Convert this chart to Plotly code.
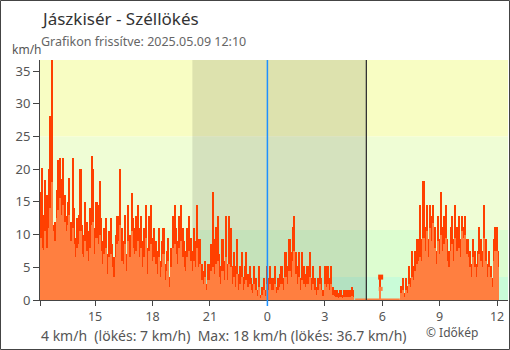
import plotly.graph_objects as go

# ---- data (5-minute bars, hours since 2025-05-08 00:00) ----
start_hour = 12.125
step_hour = 5 / 60

gust = [
    16.5, 20.2, 13.0, 18.3, 16.0, 20.0, 28.1, 36.7, 11.5, 12.0, 16.8, 21.4,
    21.7, 18.5, 21.7, 16.0, 12.8, 15.0, 18.7, 12.0, 21.7, 14.0, 9.5, 12.5,
    13.0, 20.0, 11.5, 10.0, 15.0, 12.0, 10.5, 14.0, 22.0, 20.0, 11.0, 15.0,
    14.6, 18.2, 12.5, 9.0, 11.0, 12.5, 7.0, 10.5, 12.5, 8.5, 6.5, 10.0,
    12.8, 12.8, 20.0, 11.0, 9.0, 13.0, 7.0, 14.6, 10.0, 16.4, 12.5, 11.0,
    12.8, 14.6, 11.0, 12.8, 9.0, 11.0, 14.6, 8.0, 12.8, 14.6, 9.5, 11.0,
    9.0, 7.5, 11.0, 6.0, 9.0, 11.0, 5.5, 7.5, 9.5, 3.5, 8.0, 12.8,
    14.6, 11.0, 9.0, 12.8, 14.6, 11.0, 9.0, 7.5, 11.0, 12.8, 9.5, 7.5,
    11.0, 9.0, 14.6, 9.3, 9.3, 5.5, 4.5, 6.0, 2.5, 5.5, 5.5, 8.5,
    16.5, 9.3, 11.1, 12.8, 7.0, 5.2, 9.3, 6.0, 12.8, 5.5, 12.8, 11.0,
    5.2, 7.3, 5.2, 9.3, 4.0, 5.2, 7.3, 3.5, 5.2, 7.3, 4.0, 5.2,
    3.4, 2.5, 5.2, 3.4, 1.5, 5.2, 0.8, 2.0, 3.4, 1.5, 5.2, 3.4,
    5.2, 3.4, 3.4, 5.2, 2.0, 3.4, 4.0, 5.2, 3.4, 7.3, 7.3, 5.2,
    9.3, 7.3, 11.1, 12.8, 7.3, 5.2, 7.3, 3.4, 7.3, 5.2, 4.0, 5.2,
    5.2, 7.3, 3.4, 5.2, 3.4, 2.0, 3.4, 5.2, 3.4, 1.5, 5.2, 5.2,
    5.2, 3.4, 5.2, 2.0, 1.6, 1.6, 1.6, 1.0, 1.6, 0.8, 1.6, 1.6,
    1.6, 1.6, 1.6, 2.0, 1.6, 0, 0, 0, 0, 0, 0, 0,
    0, 0, 0, 0, 0, 0, 0, 0, 0, 3.5, 0, 0,
    0, 0, 0, 0, 0, 0, 0, 0, 0, 0, 2.2, 3.4,
    1.0, 3.4, 2.2, 5.2, 3.4, 7.5, 5.2, 7.5, 9.3, 9.3, 14.6, 9.3,
    18.2, 11.1, 14.6, 9.3, 14.6, 12.8, 14.6, 11.1, 7.5, 12.8, 9.3, 16.5,
    11.1, 12.8, 14.6, 9.3, 7.5, 11.1, 12.8, 9.3, 14.6, 11.1, 12.8, 9.3,
    12.8, 11.1, 12.8, 9.3, 9.3, 7.5, 5.5, 9.3, 7.5, 5.5, 7.5, 11.1,
    9.3, 7.5, 14.6, 9.3, 5.5, 7.5, 5.2, 3.4, 9.3, 11.1, 11.1, 7.5,
]

wind = [
    9.5, 8.0, 7.6, 10.5, 7.9, 11.0, 14.0, 18.0, 10.5, 9.0, 12.5, 13.7,
    15.6, 13.0, 14.5, 12.0, 10.5, 11.5, 13.0, 9.0, 11.0, 8.5, 6.5, 8.0,
    8.5, 10.5, 7.0, 6.5, 9.0, 7.5, 6.0, 8.0, 11.5, 12.0, 7.0, 9.5,
    8.5, 10.0, 7.5, 5.5, 7.0, 8.0, 4.0, 6.5, 7.0, 5.0, 3.5, 6.5,
    8.5, 9.0, 11.5, 6.0, 5.5, 8.5, 4.5, 9.0, 6.5, 10.5, 8.0, 7.0,
    7.5, 9.0, 6.5, 8.0, 5.0, 6.5, 9.5, 4.0, 7.5, 8.5, 6.0, 6.5,
    5.5, 4.0, 6.5, 3.5, 5.0, 7.0, 3.0, 4.5, 6.0, 2.0, 5.0, 8.0,
    8.5, 7.0, 5.5, 8.0, 9.0, 6.5, 5.0, 4.5, 6.5, 7.5, 6.0, 4.5,
    6.0, 5.0, 8.0, 5.0, 5.5, 3.0, 2.5, 3.5, 1.5, 3.0, 3.0, 4.5,
    5.0, 4.0, 5.5, 6.0, 3.5, 2.5, 4.5, 3.0, 6.5, 3.0, 5.5, 5.0,
    2.5, 3.5, 2.0, 4.0, 1.5, 2.5, 3.5, 1.5, 2.5, 3.0, 2.0, 2.5,
    1.5, 1.0, 2.5, 1.5, 0.6, 2.0, 0.3, 0.8, 1.5, 0.6, 2.5, 1.5,
    2.5, 1.5, 1.5, 2.5, 1.0, 1.5, 2.0, 2.5, 1.5, 3.5, 3.5, 2.5,
    4.5, 3.5, 6.0, 7.5, 4.0, 2.5, 3.5, 1.5, 3.0, 2.5, 2.0, 2.5,
    2.5, 3.5, 1.5, 2.5, 1.5, 0.8, 1.5, 2.5, 1.5, 0.6, 2.5, 2.0,
    2.5, 1.5, 2.5, 0.8, 0.6, 0.5, 0.5, 0.3, 0.5, 0.2, 0.5, 0.5,
    0.5, 0.5, 0.4, 0.6, 0.5, 0, 0, 0, 0, 0, 0, 0,
    0, 0, 0, 0, 0, 0, 0, 0, 0, 1.7, 0, 0,
    0, 0, 0, 0, 0, 0, 0, 0, 0, 0, 1.0, 1.5,
    0.5, 1.5, 1.0, 2.5, 2.0, 3.5, 3.0, 4.5, 5.5, 6.0, 6.5, 6.0,
    9.5, 7.5, 10.5, 6.5, 11.0, 9.0, 11.8, 8.0, 5.5, 9.0, 7.0, 10.0,
    7.5, 8.5, 9.5, 6.0, 5.0, 7.5, 8.5, 6.0, 9.5, 7.5, 8.0, 6.5,
    10.5, 9.5, 10.0, 7.0, 6.5, 5.0, 3.5, 6.5, 5.0, 3.5, 5.0, 7.0,
    6.0, 5.0, 9.5, 6.0, 3.5, 5.0, 3.5, 2.0, 6.0, 7.5, 7.5, 5.0,
]

times = [start_hour + (i + 0.5) * step_hour for i in range(len(gust))]

band_limits = [0, 3.5, 10.7, 25, 36.7]
band_colors = ["#c9fcd8", "#ddfdd0", "#effdd5", "#f8fdc3"]

tick_vals = [12.12, 15, 18, 21, 24, 27, 30, 33, 36]
tick_text = ["", "15", "18", "21", "0", "3", "6", "9", "12"]
y_ticks = [0, 5, 10, 15, 20, 25, 30, 35]

sunset_h = 20.08
sunrise_h = 29.17
midnight_h = 24.0

title = "Jászkisér - Széllökés"
subtitle = "Grafikon frissítve: 2025.05.09 12:10"
summary = "4 km/h  (lökés: 7 km/h)  Max: 18 km/h (lökés: 36.7 km/h)"
credit = "© Időkép"

# ---- figure ----
W, H = 510, 350
L, R, T, B = 40, 2, 60, 50
pw, ph = W - L - R, H - T - B


def px(x):
    return (x - L) / pw


def py(y):
    return (H - B - y) / ph


GUST_C = "#ff4000"
WIND_C = "#ff7f40"

fig = go.Figure()
fig.add_trace(go.Bar(x=times, y=gust, width=step_hour, marker=dict(color=GUST_C, line=dict(width=0)),
                     hoverinfo="skip"))
fig.add_trace(go.Bar(x=times, y=wind, width=step_hour, marker=dict(color=WIND_C, line=dict(width=0)),
                     hoverinfo="skip"))

# zero line during the calm gap
zero_x = [t for t, g in zip(times, gust) if g == 0]
fig.add_trace(go.Scatter(x=zero_x, y=[0] * len(zero_x), mode="lines",
                         line=dict(color=WIND_C, width=3), hoverinfo="skip", cliponaxis=False))

# isolated points drawn as markers
iso = [i for i in range(1, len(gust) - 1) if gust[i] > 0 and gust[i - 1] == 0 and gust[i + 1] == 0]
fig.add_trace(go.Scatter(x=[times[i] for i in iso], y=[gust[i] for i in iso], mode="markers",
                         marker=dict(color=GUST_C, size=5, symbol="square"), hoverinfo="skip"))
fig.add_trace(go.Scatter(x=[times[i] for i in iso], y=[wind[i] for i in iso], mode="markers",
                         marker=dict(color=WIND_C, size=4, symbol="square"), hoverinfo="skip"))

shapes = []
for i, c in enumerate(band_colors):
    shapes.append(dict(type="rect", xref="paper", yref="y", x0=0, x1=1,
                       y0=band_limits[i], y1=band_limits[i + 1],
                       fillcolor=c, line=dict(width=0), layer="below"))
shapes.append(dict(type="rect", xref="x", yref="paper", x0=sunset_h, x1=sunrise_h, y0=0, y1=1,
                   fillcolor="rgba(0,0,0,0.105)", line=dict(width=0), layer="below"))
shapes.append(dict(type="line", xref="x", yref="paper", x0=midnight_h, x1=midnight_h, y0=-0.025, y1=1,
                   line=dict(color="#1e90ff", width=1.5), layer="above"))
shapes.append(dict(type="line", xref="x", yref="paper", x0=sunrise_h, x1=sunrise_h, y0=0, y1=1,
                   line=dict(color="#333333", width=1.3), layer="above"))
# outer frame
shapes.append(dict(type="rect", xref="paper", yref="paper", x0=px(0.5), x1=px(509.5),
                   y0=py(349.5), y1=py(0.5), line=dict(color="#444444", width=1),
                   fillcolor="rgba(0,0,0,0)", layer="above"))

FONT = "Noto Sans"
annotations = [
    dict(text=title, x=px(39), y=py(19), xref="paper", yref="paper", xanchor="left", yanchor="middle",
         showarrow=False, font=dict(family=FONT, size=17, color="#333333")),
    dict(text=subtitle, x=px(39), y=py(41), xref="paper", yref="paper", xanchor="left", yanchor="middle",
         showarrow=False, font=dict(family=FONT, size=12.5, color="#666666")),
    dict(text="km/h", x=px(27), y=py(50), xref="paper", yref="paper", xanchor="center", yanchor="middle",
         showarrow=False, font=dict(family=FONT, size=12, color="#555555")),
    dict(text=summary, x=px(39), y=py(335), xref="paper", yref="paper", xanchor="left", yanchor="middle",
         showarrow=False, font=dict(family=FONT, size=14, color="#555555")),
    dict(text=credit, x=px(424), y=py(332), xref="paper", yref="paper", xanchor="left", yanchor="middle",
         showarrow=False, font=dict(family=FONT, size=12, color="#555555")),
]

fig.update_layout(
    width=W, height=H, margin=dict(l=L, r=R, t=T, b=B),
    paper_bgcolor="white", plot_bgcolor="white",
    barmode="overlay", bargap=0, showlegend=False,
    shapes=shapes, annotations=annotations,
    font=dict(family=FONT, size=13, color="#555555"),
    xaxis=dict(range=[12.12, 36.57], tickmode="array", tickvals=tick_vals, ticktext=tick_text,
               showgrid=False, zeroline=False, showline=True, linecolor="#444444", linewidth=1,
               ticks="outside", ticklen=5, tickcolor="#444444", tickfont=dict(size=12.5, color="#555555")),
    yaxis=dict(range=[0, 36.7], tickmode="array", tickvals=y_ticks, showgrid=False, zeroline=False,
               showline=True, linecolor="#444444", linewidth=1, ticks="outside", ticklen=6,
               tickcolor="#444444", tickfont=dict(size=13, color="#555555")),
)

fig.write_html("out.html")
